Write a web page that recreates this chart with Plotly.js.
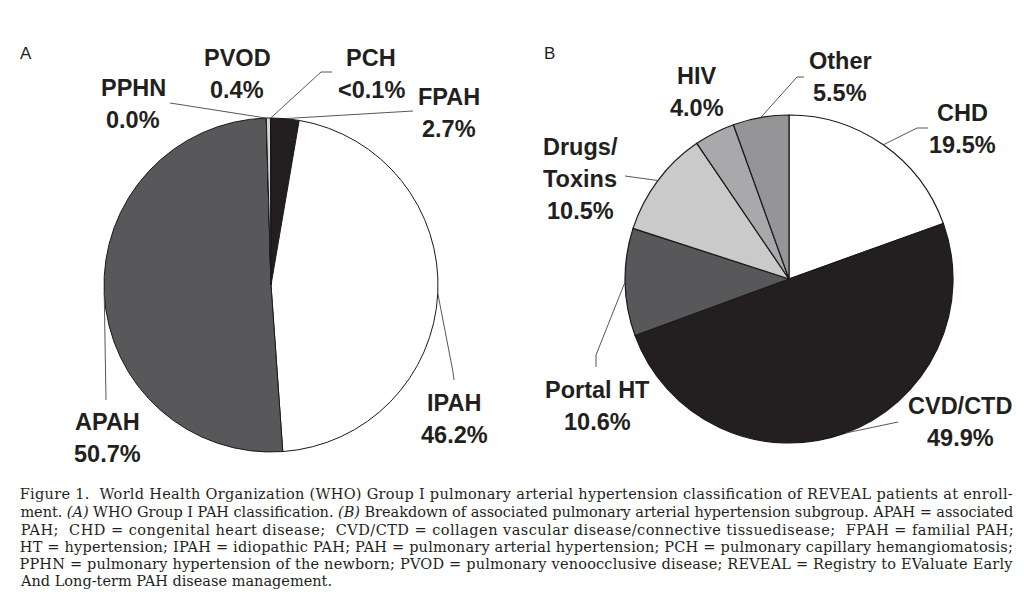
<!DOCTYPE html>
<html><head><meta charset="utf-8">
<script src="https://cdn.plot.ly/plotly-3.0.1.min.js"></script>
<style>html,body{margin:0;padding:0;background:#fff;}#chart{width:1024px;height:598px;}</style>
</head><body><div id="chart"></div>
<script>
const W = 1024, H = 598;

// ---- Panel A: WHO Group I PAH classification ----
const catsA = ['FPAH', 'IPAH', 'APAH', 'PPHN', 'PVOD', 'PCH'];
const valsA = [2.7, 46.2, 50.7, 0.0, 0.4, 0.05];
const pctA  = ['2.7%', '46.2%', '50.7%', '0.0%', '0.4%', '<0.1%'];

// ---- Panel B: APAH subgroups ----
const catsB = ['CHD', 'CVD/CTD', 'Portal HT', 'Drugs/Toxins', 'HIV', 'Other'];
const valsB = [19.5, 49.9, 10.6, 10.5, 4.0, 5.5];
const pctB  = ['19.5%', '49.9%', '10.6%', '10.5%', '4.0%', '5.5%'];
const nameLinesB = [['CHD'], ['CVD/CTD'], ['Portal HT'], ['Drugs/', 'Toxins'], ['HIV'], ['Other']];

const panelLetters = ['A', 'B'];

const captionLines = [
  'Figure 1.  World Health Organization (WHO) Group I pulmonary arterial hypertension classification of REVEAL patients at enroll-',
  'ment. <i>(A)</i> WHO Group I PAH classification. <i>(B)</i> Breakdown of associated pulmonary arterial hypertension subgroup. APAH = associated',
  'PAH;  CHD = congenital heart disease;  CVD/CTD = collagen vascular disease/connective tissuedisease;  FPAH = familial PAH;',
  'HT = hypertension; IPAH = idiopathic PAH; PAH = pulmonary arterial hypertension; PCH = pulmonary capillary hemangiomatosis;',
  'PPHN = pulmonary hypertension of the newborn; PVOD = pulmonary venoocclusive disease; REVEAL = Registry to EValuate Early',
  'And Long-term PAH disease management.'
];

// ---- layout / style (not data) ----
const colorsA = ['#231f20', '#ffffff', '#58585a', '#9a9a9a', '#d4d4d4', '#3a3a3a'];
const colorsB = ['#ffffff', '#231f20', '#58585a', '#cacaca', '#a9a9ab', '#959597'];
const geoA = {cx: 271, cy: 285, r: 167};
const geoB = {cx: 789, cy: 279, r: 164};
// label centre positions (first line), px
const labPosA = [[449, 97], [454, 403], [107, 422], [133, 88], [237, 58], [371, 58]];
const labPosB = [[962, 113], [960, 406], [597, 390], [580, 147], [697, 76], [840, 61]];
// leader line end points (polyline after slice edge), px; null = no leader
const leadA = [[[413, 111]], [[453, 372], [454, 380]], [[106, 400]], [[170, 103]], null, [[321, 72], [332, 72]]];
const leadB = [[[917, 128], [928, 128]], [[898, 422]], [[596, 355], [596, 367]], [[625, 176]], null, [[797, 77], [804, 77]]];

const LABEL_FONT = {family: 'Liberation Sans, Arial, sans-serif', size: 23.5, color: '#231f20'};
const LINE_GAP = 32;
const CAP_LEFT = 20, CAP_RIGHT = 1013;

function px2x(x) { return x / W; }
function px2y(y) { return 1 - y / H; }
function domainOf(g) {
  return {x: [px2x(g.cx - g.r), px2x(g.cx + g.r)], y: [px2y(g.cy + g.r), px2y(g.cy - g.r)]};
}
function midPoint(vals, i, g) {
  const tot = vals.reduce((a, b) => a + b, 0);
  let cum = 0; for (let k = 0; k < i; k++) cum += vals[k];
  const th = 2 * Math.PI * (cum + vals[i] / 2) / tot;
  return [g.cx + g.r * Math.sin(th), g.cy - g.r * Math.cos(th)];
}

const traces = [
  {type: 'pie', labels: catsA, values: valsA, sort: false, direction: 'clockwise', rotation: 0,
   marker: {colors: colorsA, line: {color: '#1a1a1a', width: 1}}, textinfo: 'none', hoverinfo: 'none',
   domain: domainOf(geoA), showlegend: false},
  {type: 'pie', labels: catsB, values: valsB, sort: false, direction: 'clockwise', rotation: 0,
   marker: {colors: colorsB, line: {color: '#1a1a1a', width: 1.2}}, textinfo: 'none', hoverinfo: 'none',
   domain: domainOf(geoB), showlegend: false}
];

const annotations = [];
const shapes = [];
function addLabel(lines, pos) {
  lines.forEach((t, j) => {
    annotations.push({xref: 'paper', yref: 'paper', x: px2x(pos[0]), y: px2y(pos[1] + j * LINE_GAP),
      xanchor: 'center', yanchor: 'middle', showarrow: false, text: t, font: LABEL_FONT});
  });
}
function addLeader(vals, i, g, pts) {
  if (!pts) return;
  const s = midPoint(vals, i, g);
  let path = 'M' + px2x(s[0]) + ',' + px2y(s[1]);
  pts.forEach(p => { path += ' L' + px2x(p[0]) + ',' + px2y(p[1]); });
  shapes.push({type: 'path', xref: 'paper', yref: 'paper', path: path, line: {color: '#444', width: 0.9}});
}
catsA.forEach((c, i) => { addLabel(['<b>' + c + '</b>', '<b>' + pctA[i] + '</b>'], labPosA[i]); addLeader(valsA, i, geoA, leadA[i]); });
catsB.forEach((c, i) => { addLabel(nameLinesB[i].map(s => '<b>' + s + '</b>').concat(['<b>' + pctB[i] + '</b>']), labPosB[i]); addLeader(valsB, i, geoB, leadB[i]); });

[[26, 54], [549, 54]].forEach((p, i) => {
  annotations.push({xref: 'paper', yref: 'paper', x: px2x(p[0]), y: px2y(p[1]), xanchor: 'center', yanchor: 'middle',
    showarrow: false, text: panelLetters[i], font: {family: 'Liberation Sans, Arial, sans-serif', size: 17, color: '#231f20'}});
});

const capY = [494.5, 512, 529.5, 546.5, 563.5, 581];
const capStart = annotations.length;
const CAP_FONT = {family: 'DejaVu Serif, serif', size: 14.5, color: '#231f20'};
captionLines.forEach((t, i) => {
  const last = i === captionLines.length - 1;
  annotations.push({xref: 'paper', yref: 'paper',
    x: last ? px2x(CAP_LEFT - 2) : px2x((CAP_LEFT + CAP_RIGHT) / 2), y: px2y(capY[i]),
    xanchor: last ? 'left' : 'center', yanchor: 'middle',
    showarrow: false, text: t, font: CAP_FONT});
});

const layout = {width: W, height: H, margin: {l: 0, r: 0, t: 0, b: 0}, paper_bgcolor: '#ffffff',
  plot_bgcolor: '#ffffff', showlegend: false, annotations: annotations, shapes: shapes};

Plotly.newPlot('chart', traces, layout, {displayModeBar: false, staticPlot: true}).then(gd => {
  // justify caption lines (all but last) to the column width (centred text stretches symmetrically)
  gd.querySelectorAll('.annotation').forEach(g => {
    const idx = +g.getAttribute('data-index');
    if (idx >= capStart && idx < capStart + captionLines.length - 1) {
      const t = g.querySelector('text.annotation-text');
      if (t) { t.setAttribute('textLength', CAP_RIGHT - CAP_LEFT); t.setAttribute('lengthAdjust', 'spacing'); }
    }
  });
});
</script>
</body></html>
